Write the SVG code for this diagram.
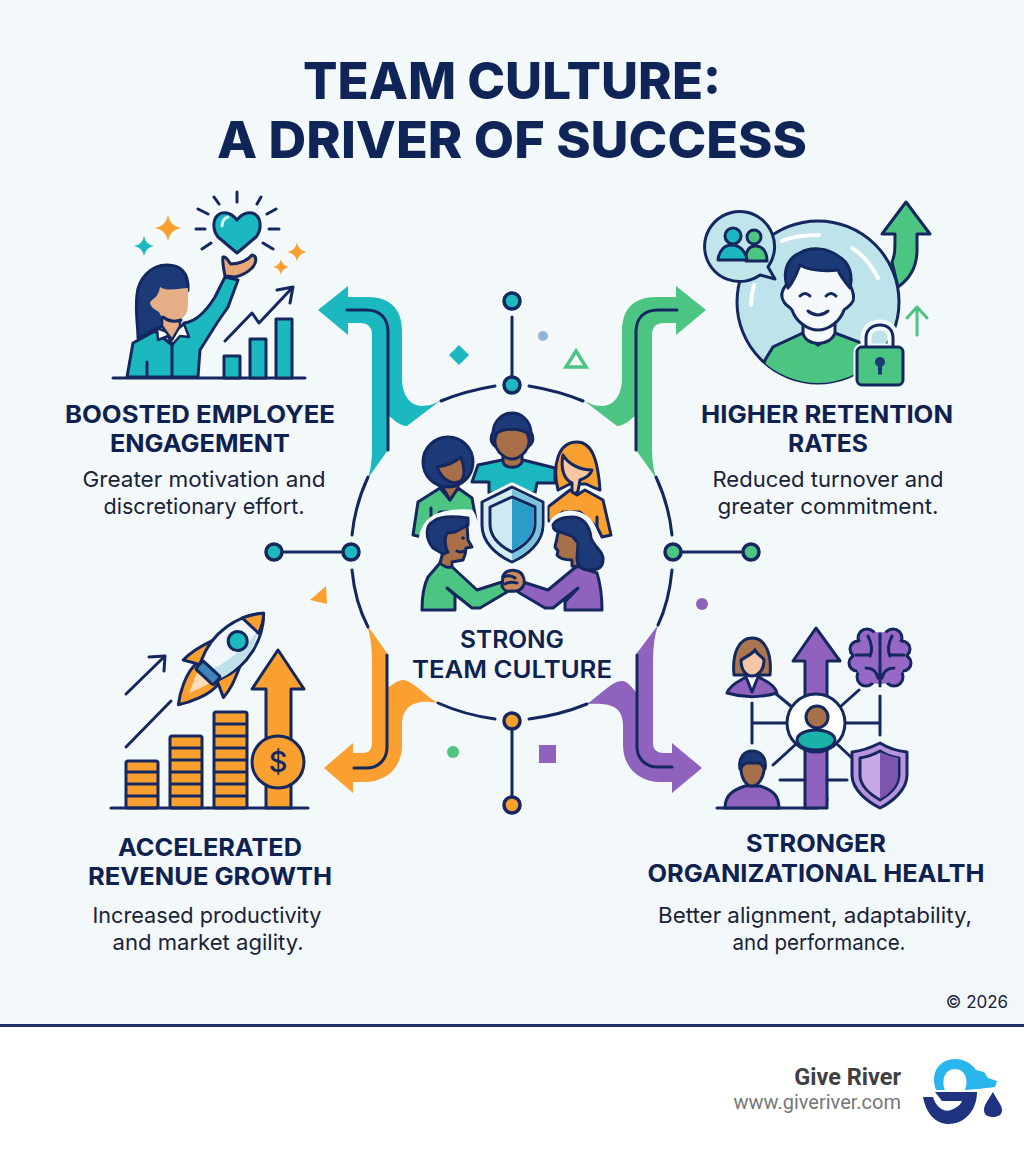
<svg xmlns="http://www.w3.org/2000/svg" width="1024" height="1154" viewBox="0 0 1024 1154">
<defs>
<linearGradient id="bg" x1="0" y1="0" x2="1" y2="1"><stop offset="0" stop-color="#f4f9fc"/><stop offset="1" stop-color="#f2f7fa"/></linearGradient>
<path id="spark" d="M0-10Q1.5-1.5 10 0Q1.5 1.5 0 10Q-1.5 1.5-10 0Q-1.5-1.5 0-10Z"/>
<clipPath id="bigc"><circle cx="818" cy="302" r="81"/></clipPath>
</defs>
<style>
text{font-family:"Inter","Liberation Sans",sans-serif;text-anchor:middle}
.t{font-size:51px;font-weight:800;fill:#0f2558}
.h{font-size:24px;font-weight:700;fill:#0f2150}
.s{font-size:22px;font-weight:400;fill:#1a2238}
.n{stroke:#14285f;stroke-width:3;stroke-linecap:round;stroke-linejoin:round}
.l{fill:none;stroke:#14285f;stroke-width:3;stroke-linecap:round;stroke-linejoin:round}
.c{stroke:#14285f;stroke-width:3.5;fill:#1fb8bf}
.w{fill:none;stroke:#fff;stroke-width:4;stroke-linecap:round}
.halo{fill:#f4f9fc;stroke:#f4f9fc;stroke-width:9;stroke-linejoin:round}
.teal{fill:#1cb8c0}.green{fill:#4cc482}.orange{fill:#f9a031}.purple{fill:#8f62bd}.hair{fill:#1d3a78}.skin{fill:#a96f48}
</style>
<rect width="1024" height="1026" fill="url(#bg)"/>
<rect y="1026" width="1024" height="128" fill="#fff"/>
<rect y="1024" width="1024" height="3" fill="#1f2d6b"/>

<g id="title">
<text class="t" x="512" y="99" textLength="418" lengthAdjust="spacingAndGlyphs">TEAM CULTURE:</text>
<text class="t" x="512" y="158" textLength="590" lengthAdjust="spacingAndGlyphs">A DRIVER OF SUCCESS</text>
</g>

<g id="connectors">
<path class="teal" d="M318 310L348 286V297H368C390 297 402 309 402 331V378C402 395 410 406 422 406C430 406 436 403 441 400L407 426C400 426 394 420 388 415V450L368 478Q372 465 372 450V335Q372 323 360 323H348V335Z"/>
<path class="l" d="M347 310H366C380 310 388 318 388 332V450"/>
<g transform="translate(1024,0) scale(-1,1)">
<path class="green" d="M318 310L348 286V297H368C390 297 402 309 402 331V378C402 395 410 406 422 406C430 406 436 403 441 400L407 426C400 426 394 420 388 415V450L368 478Q372 465 372 450V335Q372 323 360 323H348V335Z"/>
<path class="l" d="M347 310H366C380 310 388 318 388 332V450"/>
</g>
<path class="orange" d="M324 768L353 743V753H362Q372 753 372 743V660Q372 640 367 625L387 653V688C394 684 398 680 403 680C412 680 424 695 438 703C424 700 402 700 402 725V745C402 768 386 782 364 782H353V793Z"/>
<path class="l" d="M354 768H366C380 768 387 758 387 747V655"/>
<path class="purple" d="M702 768L672 743V753H664Q653 753 653 743V660Q653 640 658 625L637 653V693C632 688 628 681 622 681C612 681 600 695 587 704C604 703 623 703 623 725V745C623 768 640 782 660 782H672V793Z"/>
<path class="l" d="M672 767H658C645 767 637 758 637 747V655"/>
<g fill="none" stroke="#14285f" stroke-width="3" stroke-linecap="round">
<path d="M495 386Q465 391 441 401"/><path d="M529 386Q559 391 583 401"/>
<path d="M368 477Q355 505 352 535"/><path d="M656 477Q669 505 672 535"/>
<path d="M352 570Q355 602 368 627"/><path d="M672 570Q669 602 658 625"/>
<path d="M438 703Q465 715 495 719"/><path d="M587 704Q560 715 529 719"/>
<path d="M512 317V377"/><path d="M512 729V797"/>
<path d="M282 552H343"/><path d="M681 552H743"/>
</g>
<circle class="c" cx="512" cy="301" r="8"/><circle class="c" cx="512" cy="385" r="8"/>
<circle class="c" cx="274" cy="552" r="8"/><circle class="c" cx="351" cy="552" r="8"/>
<circle class="c" cx="673" cy="552" r="8" style="fill:#4cc482"/><circle class="c" cx="751" cy="552" r="8" style="fill:#4cc482"/>
<circle class="c" cx="512" cy="721" r="8" style="fill:#f9a031"/><circle class="c" cx="512" cy="805" r="8" style="fill:#f9a031"/>
</g>

<g id="decor">
<path class="teal" d="M459 345L469 355L459 365L449 355Z"/>
<circle cx="543" cy="336" r="5" fill="#8fb5d8"/>
<path d="M576 351L586 367H566Z" fill="none" stroke="#4cc482" stroke-width="3.5"/>
<path class="orange" d="M310 600L326 586L327 604Z"/>
<circle class="purple" cx="702" cy="604" r="6"/>
<circle class="green" cx="453" cy="752" r="6"/>
<rect class="purple" x="539" y="745" width="17" height="18"/>
</g>

<g id="center-team">
<path class="n teal" d="M472 482L478 465L502 460H523L555 468V483H537L535 493H489V482Z"/>
<path class="n skin" d="M503 455V462C505 469 519 469 522 462V455Z"/>
<path class="n hair" d="M495 446C490 442 491 436 493 432C494 420 503 413 512 413C521 413 530 420 531 432C533 436 534 442 529 446Z"/>
<path class="n skin" d="M497 433C505 428 519 428 527 433C529 437 530 442 528 447C525 454 518 459 512 459C506 459 499 454 496 447C494 442 495 437 497 433Z"/>
<path class="n green" d="M413 535L418 502L440 488L450 500L458 488L472 498L476 520L467 512H440L425 528L422 537Z"/>
<path class="n skin" d="M442 478V486L450 500L458 488V478Z"/>
<circle class="n hair" cx="448" cy="462" r="25"/>
<path class="n skin" d="M437 467C445 466 455 462 461 457C464 466 465 475 462 480C456 485 444 484 437 467Z"/>
<path class="l" d="M431 508V517"/>
<path class="n orange" d="M548 520V507L570 490L577 495L585 490L603 500L611 535L602 537L597 527L580 512H563L550 522Z"/>
<path class="n orange" d="M558 490C552 465 558 442 577 442C592 442 598 460 600 490C594 488 590 486 586 484H570Z"/>
<path d="M563 455C568 464 580 470 592 470C590 476 583 479 580 480L578 491C576 494 573 494 572 491V483C565 480 560 470 563 455Z" fill="#f6c7a4" stroke="#14285f" stroke-width="3" stroke-linejoin="round"/>
<path class="l" d="M597 527V517"/>
<path class="halo" d="M512 487L543 502V525C543 542 528 555 512 562C496 555 482 542 482 525V502Z"/>
<path d="M512 487L543 502V525C543 542 528 555 512 562C496 555 482 542 482 525V502Z" fill="#d4ecf3" stroke="#14285f" stroke-width="3" stroke-linejoin="round"/>
<path d="M512 489L541.5 503V525C541.5 541 527 553 512 560Z" fill="#7cc3de"/>
<path d="M512 497L535 507V524C535 537 524 546 512 552C500 546 490 537 490 524V507Z" fill="#cfe9f1" stroke="#14285f" stroke-width="3" stroke-linejoin="round"/>
<path d="M512 499L533.5 508V524C533.5 536 524 544 512 550Z" fill="#2a9cc7"/>
<path class="halo" d="M423 540C425 520 440 512 470 514C476 524 474 548 466 562L478 587L505 580L510 594L480 610H422C420 590 425 570 438 560Z"/>
<path class="n green" d="M422 610C422 595 424 585 428 577L440 563L450 565L477 590L502 582L507 592L480 608H472L447 588L455 595V610Z"/>
<path class="n skin" d="M443 552L440 563C443 566 448 568 452 567V562L463 560C465 556 466 552 466 548L472 547L468 540L467 525L445 530Z"/>
<path class="n hair" d="M433 548C425 538 425 525 434 521C440 516 454 516 468 518V525L455 532L447 533C444 538 445 548 448 552L443 554Z"/>
<circle cx="463" cy="538" r="1.8" fill="#14285f"/>
<path class="l" d="M457 551Q461 553 464 551" stroke-width="2"/>
<path class="halo" d="M553 525C558 512 585 510 592 530C598 545 605 555 603 565L596 572L602 610H545L515 593L520 580L548 588L572 565L556 555Z"/>
<path class="n purple" d="M602 610C602 595 600 583 597 573L577 566L548 590L523 582L518 592L545 608H553L578 588L565 602V610Z"/>
<path class="n skin" d="M560 528L558 533L555 547L558 551L557 555C560 560 568 560 572 560V566L577 567L581 555V530Z"/>
<path class="n hair" d="M553 525C556 519 563 517 573 517C583 517 590 526 591 538C595 548 604 552 603 560C603 568 597 570 590 570C582 571 577 565 577 558L578 543L572 536L560 532C556 531 553 530 553 525Z"/>
<path class="n" fill="#c98a5e" d="M503 576C505 571 511 569 517 571C522 572 525 578 524 584C523 589 517 592 512 591C507 592 503 590 502 586Z"/>
<path class="l" d="M503 577Q510 574 515 578M505 584Q510 581 517 583" stroke-width="2"/>
<text x="512" y="648" class="h" style="font-weight:600" textLength="104" lengthAdjust="spacingAndGlyphs">STRONG</text>
<text x="512" y="678" class="h" style="font-weight:600" textLength="200" lengthAdjust="spacingAndGlyphs">TEAM CULTURE</text>
</g>

<g id="engagement">
<path class="l" d="M113 378H305" stroke-width="3.5"/>
<g class="n teal"><rect x="224" y="356" width="16" height="22"/><rect x="250" y="339" width="16" height="39"/><rect x="276" y="319" width="16" height="59"/></g>
<path class="l" d="M225 341L252 313L259 323L293 287M277 290L293 287L290 303"/>
<path class="n teal" d="M237 220C231 212 222 211 218 215C212 220 213 231 218 237L237 253L256 237C261 231 262 220 256 215C252 211 243 212 237 220Z"/>
<path class="w" d="M222 226Q222 219 228 217" style="stroke-width:3;opacity:.8"/>
<path class="l" d="M237 192V202M214 197L219 204M261 197L257 204M198 209L208 214M276 209L267 214M196 229H205M269 229H279M202 249L211 243M273 249L263 243"/>
<use href="#spark" transform="translate(168,228) scale(1.3)" class="orange"/>
<use href="#spark" transform="translate(144,246)" class="teal"/>
<use href="#spark" transform="translate(297,252) scale(.95)" class="orange"/>
<use href="#spark" transform="translate(281,267) scale(.8)" class="orange"/>
<path class="n hair" d="M167 265C150 265 138 280 137 295C135 312 138 325 138 338L162 326L188 290C189 272 180 265 167 265Z"/>
<path class="n teal" d="M127 377L133 343L155 331L172 345L184 323C195 322 205 313 215 297L225 277L238 280L228 307L217 323L200 350L198 377Z"/>
<path d="M157 328L158 340L168 336L172 345L180 336L189 337L184 324L172 334Z" fill="#fff" stroke="#14285f" stroke-width="2.5" stroke-linejoin="round"/>
<path d="M162 316V326L172 340L180 326V316Z" fill="#e5ae86" stroke="#14285f" stroke-width="2.5" stroke-linejoin="round"/>
<path d="M160 287C168 292 180 288 188 288V305C188 315 182 321 172 321C165 321 161 317 159 312C156 310 151 308 150 303C152 298 158 299 160 287Z" fill="#e5ae86"/>
<path class="l" d="M163 317C168 321 175 322 181 320M172 343V377M147 362V377"/>
<path class="n" fill="#e9a77c" d="M223 257C228 256 228 263 231 264C240 264 248 260 252 255C258 256 256 264 252 268C246 274 240 276 235 277L225 276C224 270 222 262 223 257Z"/>
</g>

<g id="retention">
<path class="n green" d="M906 202L930 234H917V250C917 268 908 280 898 287L892 262C895 255 895 250 895 234H882Z"/>
<circle cx="818" cy="302" r="81" fill="#bfe3ea" stroke="#14285f" stroke-width="3"/>
<path class="green" clip-path="url(#bigc)" d="M765 360L773 347L803 333L818 345L835 333L880 350V390H760Z" stroke="#14285f" stroke-width="3"/>
<path fill="#f6f9fb" stroke="#14285f" stroke-width="3" d="M803 322V333C806 347 830 347 835 333V322Z"/>
<path fill="#f6f9fb" stroke="#14285f" stroke-width="3" d="M786 285C782 290 780 296 784 302C786 306 790 307 792 310C796 322 808 330 818 330C828 330 840 322 844 310C847 307 851 306 853 301C855 295 852 289 850 285L840 265H800Z"/>
<path class="n hair" d="M788 288C782 275 786 258 800 253C810 246 828 248 838 256C850 262 853 276 850 288C845 282 840 276 838 270C825 272 808 270 800 265C797 273 793 283 788 288Z"/>
<path class="l" d="M800 296Q805 291 810 296M826 296Q831 291 836 296M808 311Q818 319 828 311"/>
<g class="w"><path d="M782 241Q796 235 819 235"/><path d="M852 248Q868 258 878 278"/><path d="M751 305Q751 295 754 285"/></g>
<path d="M775 279L768 267A35 35 0 1 0 760 275Z" fill="#c2e5ec" stroke="#14285f" stroke-width="3" stroke-linejoin="round"/>
<circle cx="754" cy="237" r="7" class="n green"/>
<path class="n green" d="M746 261C745 250 750 246 755 246C763 246 767 252 767 261Z" stroke-width="2.5"/>
<circle cx="733" cy="236" r="8" class="n teal"/>
<path class="n teal" d="M718 260C719 250 725 245 732 245C740 245 746 252 747 260Z"/>
<path class="l" d="M917 307V335M907 318L917 307L927 318" style="stroke:#4cc482"/>
<g>
<path d="M866 350V338C866 330 872 325 880 325C888 325 893 330 893 338V350" fill="none" stroke="#f4f9fc" stroke-width="11"/>
<rect x="857" y="347" width="46" height="38" rx="5" fill="#f4f9fc" stroke="#f4f9fc" stroke-width="7"/>
<path class="l" d="M866 347V338C866 330 872 325 880 325C888 325 893 330 893 338V347"/>
<rect class="n green" x="857" y="347" width="46" height="38" rx="5"/>
<circle cx="880" cy="362" r="5" fill="#1d3a78"/><path d="M880 362V373" stroke="#1d3a78" stroke-width="4" stroke-linecap="round"/>
</g>
</g>

<g id="revenue">
<path class="n orange" d="M278 650L304 689H291V808H266V689H252Z"/>
<circle class="n orange" cx="278" cy="762" r="26"/>
<text x="278" y="772" style="font-size:29px;font-weight:500;fill:#14285f">$</text>
<g class="n orange"><rect x="126" y="761" width="32" height="47" rx="2"/><rect x="170" y="736" width="32" height="72" rx="2"/><rect x="214" y="712" width="33" height="96" rx="2"/></g>
<path class="l" d="M127 784H157M127 772H157M127 796H157M171 748H201M171 760H201M171 772H201M171 784H201M171 796H201M215 724H246M215 736H246M215 748H246M215 760H246M215 772H246M215 784H246M215 796H246"/>
<path class="l" d="M111 808H308" stroke-width="3.5"/>
<path class="l" d="M126 694L165 656M149 657L165 656L164 671M126 747L171 701"/>
<g transform="translate(207,674) rotate(43)">
<path class="n orange" d="M-15-2C-17 14-6 34 0 42C6 34 17 14 15-2Z"/>
<path d="M-8 2C-8 10-2 20 0 26C2 20 8 10 8 2Z" fill="#fbdcb5"/>
<path class="n orange" d="M-19-28C-24-15-27-5-27 6L-12-2Z"/>
<path class="n orange" d="M19-28C24-15 28-5 28 6L12-2Z"/>
<path d="M-13-5C-26-35-17-65 0-83C17-65 26-35 13-5Z" fill="#f0f6f9" stroke="#14285f" stroke-width="3" stroke-linejoin="round"/>
<path d="M13-6C21-28 18-50 8-66Q10-30 0-6Z" fill="#bfe0e8"/>
<path class="n orange" d="M-12.5-65C-8-74-4-79 0-83C4-79 7-74 10-65Z"/>
<circle class="n teal" cy="-45" r="9.5"/>
<rect x="-12" y="-7" width="24" height="11" rx="2" fill="#3e83b8" stroke="#14285f" stroke-width="3"/>
</g>
</g>

<g id="health">
<path class="l" d="M717 808H815C823 808 827 805 827 798"/>
<path class="n purple" d="M816 628L840 661H827V808H805V661H793Z"/>
<path class="l" d="M775 693L792 707M840 707L859 690M752 703V743M752 723H787M845 723H880M880 696V735M773 765L795 745M838 745L852 758M780 780H805M827 780H847"/>
<circle cx="816" cy="723" r="29" fill="#fff" stroke="#14285f" stroke-width="3"/>
<circle cx="817" cy="717" r="11" fill="#a96f48" stroke="#14285f" stroke-width="3"/>
<ellipse cx="816" cy="740" rx="19" ry="10" fill="#1cb0ab" stroke="#14285f" stroke-width="3"/>
<path class="n" fill="#a97650" d="M734 675C732 655 738 638 752 638C766 638 772 655 770 675H734Z"/>
<path class="n purple" d="M727 693C730 684 742 680 746 677L752 692L758 677C765 680 775 685 777 693C760 698 744 698 727 693Z"/>
<path d="M741 660C746 657 752 654 755 650C758 656 763 657 764 660C764 670 758 676 752 676C746 676 741 670 741 660Z" fill="#f4c6a5" stroke="#14285f" stroke-width="3"/>
<path class="n purple" d="M725 808C725 795 733 790 745 786H760C772 790 779 795 779 808Z"/>
<path class="n skin" d="M741 768C741 760 764 760 764 768C764 778 758 786 752 786C746 786 741 778 741 768Z"/>
<path class="n hair" d="M740 769C738 757 745 751 752 751C760 751 767 757 765 769L760 763H745Z"/>
<path d="M880 743C870 748 862 751 852 752V775C852 790 868 802 880 808C892 802 907 790 907 775V752C897 751 888 748 880 743Z" fill="#b894dc" stroke="#14285f" stroke-width="3" stroke-linejoin="round"/>
<path d="M880 751C873 755 866 757 860 758V775C860 786 871 795 880 800C889 795 899 786 899 775V758C893 757 886 755 880 751Z" fill="#c7a9e6" stroke="#14285f" stroke-width="3" stroke-linejoin="round"/>
<path d="M880 752C886 755 893 757 898 758V775C898 786 889 794 880 799Z" fill="#7e55ad"/>
<g fill="#9668c6" stroke="#14285f" stroke-width="3">
<circle cx="867" cy="638" r="9"/><circle cx="893" cy="638" r="9"/><circle cx="858" cy="649" r="8"/><circle cx="902" cy="649" r="8"/><circle cx="857" cy="663" r="8"/><circle cx="903" cy="663" r="8"/><circle cx="866" cy="677" r="9"/><circle cx="894" cy="677" r="9"/>
<ellipse cx="880" cy="658" rx="26" ry="26" stroke="none"/>
</g>
<path class="l" d="M880 634V686M868 636Q874 648 870 656M856 655H870M892 636Q886 648 890 656M904 655H890M866 668Q876 668 878 678M894 668Q884 668 882 678"/>
</g>

<g id="labels">
<text class="h" x="200" y="423" textLength="270" lengthAdjust="spacingAndGlyphs">BOOSTED EMPLOYEE</text>
<text class="h" x="200" y="452" textLength="180" lengthAdjust="spacingAndGlyphs">ENGAGEMENT</text>
<text class="s" x="204" y="487" textLength="243" lengthAdjust="spacingAndGlyphs">Greater motivation and</text>
<text class="s" x="204" y="514" textLength="201" lengthAdjust="spacingAndGlyphs">discretionary effort.</text>
<text class="h" x="827" y="423" textLength="252" lengthAdjust="spacingAndGlyphs">HIGHER RETENTION</text>
<text class="h" x="828" y="452" textLength="80" lengthAdjust="spacingAndGlyphs">RATES</text>
<text class="s" x="828" y="487" textLength="231" lengthAdjust="spacingAndGlyphs">Reduced turnover and</text>
<text class="s" x="828" y="514" textLength="221" lengthAdjust="spacingAndGlyphs">greater commitment.</text>
<text class="h" x="210" y="856" textLength="184" lengthAdjust="spacingAndGlyphs">ACCELERATED</text>
<text class="h" x="210" y="885" textLength="244" lengthAdjust="spacingAndGlyphs">REVENUE GROWTH</text>
<text class="s" x="207" y="923" textLength="229" lengthAdjust="spacingAndGlyphs">Increased productivity</text>
<text class="s" x="208" y="950" textLength="191" lengthAdjust="spacingAndGlyphs">and market agility.</text>
<text class="h" x="816" y="852" textLength="140" lengthAdjust="spacingAndGlyphs">STRONGER</text>
<text class="h" x="816" y="882" textLength="337" lengthAdjust="spacingAndGlyphs">ORGANIZATIONAL HEALTH</text>
<text class="s" x="815" y="923" textLength="314" lengthAdjust="spacingAndGlyphs">Better alignment, adaptability,</text>
<text class="s" x="819" y="950" textLength="173" lengthAdjust="spacingAndGlyphs">and performance.</text>
<text x="977" y="1008" style="font-size:17px;fill:#1a2238">© 2026</text>
</g>

<g id="footer">
<text x="901" y="1085" style="text-anchor:end;font-family:Roboto,sans-serif;font-size:23.5px;font-weight:700;fill:#404040">Give River</text>
<text x="901" y="1109" style="text-anchor:end;font-family:Roboto,sans-serif;font-size:20px;fill:#777">www.giveriver.com</text>
<g id="logo">
<path fill="#29b6ec" d="M936 1090C929 1070 942 1059 955 1059C964 1059 971 1063 976 1070L984 1072L988 1078L997 1081L995 1087L978 1089L965 1090C969 1080 965 1069 955 1069C945 1069 941 1080 945 1090Z"/>
<path fill="#1f3380" d="M935 1092H977C977 1110 965 1124 949 1124C936 1124 926 1114 923 1097H933C936 1107 944 1113 951 1110C958 1107 961 1104 962 1101H942Z"/>
<path fill="#1f3380" d="M993 1092C988 1100 984 1105 984 1110C984 1115 988 1117 993 1117C998 1117 1002 1115 1002 1110C1002 1105 997 1100 993 1092Z"/>
</g>
</g>
</svg>
